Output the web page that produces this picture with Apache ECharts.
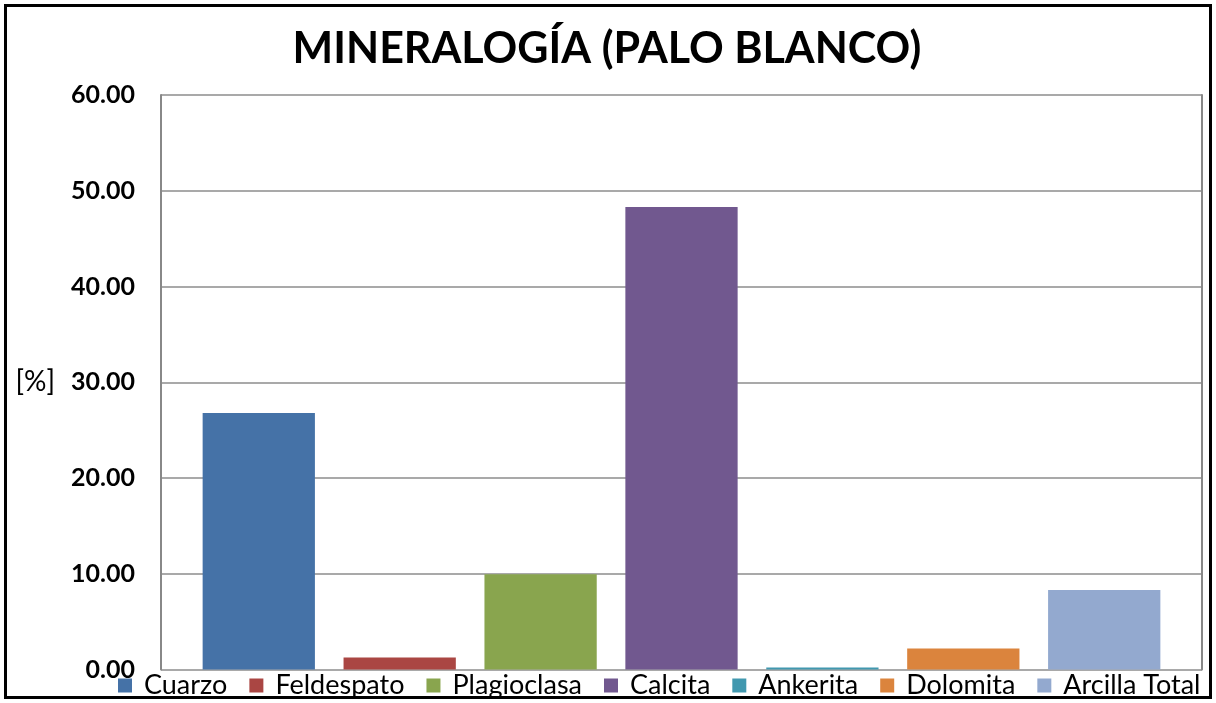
<!DOCTYPE html>
<html>
<head>
<meta charset="utf-8">
<script src="https://cdn.jsdelivr.net/npm/echarts@6/dist/echarts.min.js"></script>
<style>
  html, body { margin: 0; padding: 0; background: #fff; }
  #chart { width: 1216px; height: 703px; }
</style>
</head>
<body>
<div id="chart"></div>
<script>
// Mineral composition, Palo Blanco sample (percent)
const minerals = ['Cuarzo', 'Feldespato', 'Plagioclasa', 'Calcita', 'Ankerita', 'Dolomita', 'Arcilla Total'];
const percents = [26.8, 1.25, 9.95, 48.3, 0.2, 2.2, 8.3];
const colors = ['#4572A7', '#AA4643', '#89A54E', '#71588F', '#4198AF', '#DB843D', '#93A9CF'];
const yTicks = { min: 0, max: 60, step: 10 };

const FONT = 'Lato, "Open Sans", sans-serif';

const chart = echarts.init(document.getElementById('chart'), null, { renderer: 'canvas' });

const series = minerals.map((name, i) => ({
  name: name,
  type: 'bar',
  data: [percents[i]],
  itemStyle: { color: colors[i] },
  barGap: '25.5%',
  barCategoryGap: '8%'
}));

chart.setOption({
  animation: false,
  backgroundColor: '#ffffff',
  color: colors,
  title: {
    text: 'MINERALOGÍA (PALO BLANCO)',
    left: 602,
    textAlign: 'center',
    top: 23,
    textStyle: { fontFamily: FONT, fontSize: 43, fontWeight: 'bold', color: '#000' }
  },
  legend: {
    data: minerals,
    left: 113,
    right: 0,
    top: 667,
    itemWidth: 14,
    itemHeight: 14,
    itemGap: 22,
    icon: 'rect',
    textStyle: { fontFamily: FONT, fontSize: 27, color: '#000', padding: [0, 0, 0, 7] }
  },
  grid: { left: 161, right: 14, top: 95, bottom: 33.5, containLabel: false },
  xAxis: {
    type: 'category',
    data: [''],
    axisLine: { show: false },
    axisTick: { show: false },
    axisLabel: { show: false }
  },
  yAxis: [{
    type: 'value',
    min: yTicks.min,
    max: yTicks.max,
    interval: yTicks.step,
    name: '[%]',
    nameLocation: 'middle',
    nameRotate: 0,
    nameGap: 106,
    nameTextStyle: { fontFamily: FONT, fontSize: 28, color: '#000', align: 'right', verticalAlign: 'middle' },
    axisLine: { show: true, lineStyle: { color: '#888', width: 2 } },
    axisTick: { show: false },
    axisLabel: {
      margin: 26,
      fontFamily: FONT, fontSize: 25, fontWeight: 'bold', color: '#000',
      formatter: v => v.toFixed(2)
    },
    splitLine: { show: true, lineStyle: { color: '#8c8c8c', width: 1.5 } }
  }, {
    type: 'value',
    position: 'right',
    min: yTicks.min,
    max: yTicks.max,
    interval: yTicks.step,
    axisLine: { show: true, lineStyle: { color: '#888', width: 2 } },
    axisTick: { show: false },
    axisLabel: { show: false },
    splitLine: { show: false }
  }],
  series: series,
  graphic: [{
    type: 'rect',
    shape: { x: 5.5, y: 5.5, width: 1205, height: 692 },
    style: { fill: null, stroke: '#000', lineWidth: 3 },
    silent: true,
    z: 100
  }]
});
</script>
</body>
</html>
